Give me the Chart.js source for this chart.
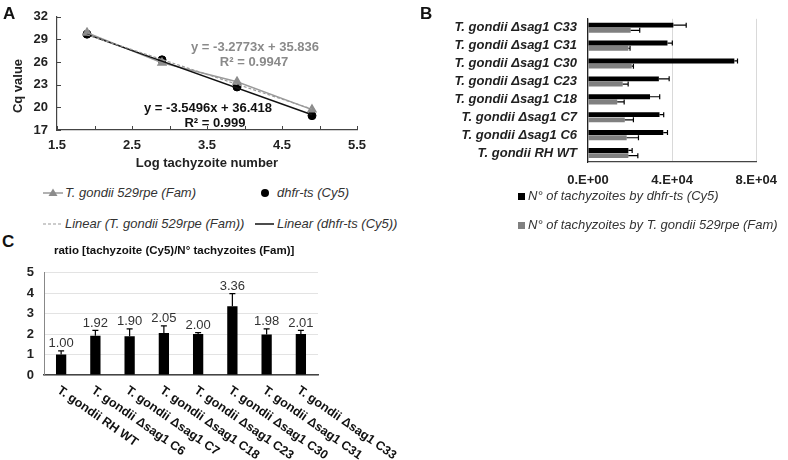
<!DOCTYPE html>
<html><head><meta charset="utf-8">
<script src="https://cdn.jsdelivr.net/npm/chart.js@4.4.1/dist/chart.umd.min.js"></script>
<style>
body{margin:0;background:#fff;width:788px;height:460px;position:relative;overflow:hidden;font-family:"Liberation Sans",Arial,sans-serif;}
.abs{position:absolute;white-space:nowrap;line-height:16px;}
canvas{position:absolute;}
.lg{font-style:italic;font-size:13px;color:#333;}
.letter{font-weight:bold;font-size:17px;color:#111;line-height:20px;}
</style></head><body>
<canvas id="cA" width="380" height="175" style="left:0;top:0;width:380px;height:175px"></canvas>
<canvas id="cB" width="388" height="200" style="left:400px;top:0;width:388px;height:200px"></canvas>
<canvas id="cC" width="400" height="205" style="left:0;top:255px;width:400px;height:205px"></canvas>

<div class="abs letter" style="left:3px;top:4px">A</div>
<div class="abs letter" style="left:420px;top:4px">B</div>
<div class="abs letter" style="left:2px;top:232px">C</div>

<div class="abs" style="left:18px;top:86px;transform:translate(-50%,-50%) rotate(-90deg);font-weight:bold;font-size:13px;color:#222">Cq value</div>

<div class="abs" style="left:255px;top:39px;transform:translateX(-50%);font-weight:bold;font-size:13px;color:#8a8a8a">y = -3.2773x + 35.836</div>
<div class="abs" style="left:254px;top:54px;transform:translateX(-50%);font-weight:bold;font-size:13px;color:#8a8a8a">R² = 0.9947</div>
<div class="abs" style="left:208px;top:100px;transform:translateX(-50%);font-weight:bold;font-size:13px;color:#111">y = -3.5496x + 36.418</div>
<div class="abs" style="left:215px;top:115px;transform:translateX(-50%);font-weight:bold;font-size:13px;color:#111">R² = 0.999</div>

<!-- legend A -->
<svg class="abs" style="left:41px;top:186px" width="24" height="14"><line x1="2" y1="7" x2="22" y2="7" stroke="#999" stroke-width="1.5"/><polygon points="12,2.5 16.5,10 7.5,10" fill="#8c8c8c"/></svg>
<div class="abs lg" style="left:65px;top:185px">T. gondii 529rpe (Fam)</div>
<svg class="abs" style="left:259px;top:187px" width="12" height="12"><circle cx="6" cy="6" r="4" fill="#000"/></svg>
<div class="abs lg" style="left:277px;top:185px">dhfr-ts (Cy5)</div>
<svg class="abs" style="left:41px;top:217px" width="24" height="14"><line x1="2" y1="7" x2="22" y2="7" stroke="#999" stroke-width="1.2" stroke-dasharray="3,2"/></svg>
<div class="abs lg" style="left:65px;top:216px">Linear (T. gondii 529rpe (Fam))</div>
<svg class="abs" style="left:253px;top:217px" width="24" height="14"><line x1="2" y1="7" x2="21" y2="7" stroke="#111" stroke-width="1.5"/></svg>
<div class="abs lg" style="left:277px;top:216px">Linear (dhfr-ts (Cy5))</div>

<!-- legend B -->
<div class="abs" style="left:518px;top:193px;width:7px;height:7px;background:#000"></div>
<div class="abs lg" style="left:528px;top:188px">N° of tachyzoites by dhfr-ts (Cy5)</div>
<div class="abs" style="left:518px;top:222px;width:7px;height:7px;background:#808080"></div>
<div class="abs lg" style="left:528px;top:217px">N° of tachyzoites by T. gondii 529rpe (Fam)</div>

<!-- title C -->
<div class="abs" style="left:54px;top:242px;font-weight:bold;font-size:11.5px;color:#111">ratio [tachyzoite (Cy5)/N° tachyzoites (Fam)]</div>

<script>
// ---------- Panel A data ----------
const logTachyzoites = [1.9, 2.9, 3.9, 4.9];
const cqFam = [29.9, 25.9, 23.4, 19.7];
const cqCy5 = [29.7, 26.3, 22.7, 18.9];
const trendX = [1.9, 4.9];
const trendFam = [29.61, 19.78];
const trendCy5 = [29.67, 19.03];
const xTicksA = ['1.5', '2.5', '3.5', '4.5', '5.5'];

// ---------- Panel B data (top to bottom) ----------
const strainsB = ['T. gondii Δsag1 C33', 'T. gondii Δsag1 C31', 'T. gondii Δsag1 C30', 'T. gondii Δsag1 C23',
                  'T. gondii Δsag1 C18', 'T. gondii Δsag1 C7', 'T. gondii Δsag1 C6', 'T. gondii RH WT'];
const tachyCy5 = [40600, 37800, 69600, 33700, 29500, 34000, 35800, 19200];
const tachyCy5Err = [6100, 2300, 1500, 4900, 4600, 2000, 2000, 1800];
const tachyFam = [20300, 19200, 20800, 16500, 13900, 17500, 18400, 19200];
const tachyFamErr = [4300, 800, 800, 2600, 3300, 4100, 5600, 4500];
const xTicksB = ['0.E+00', '4.E+04', '8.E+04'];

// ---------- Panel C data ----------
const strainsC = ['T. gondii RH WT', 'T. gondii Δsag1 C6', 'T. gondii Δsag1 C7', 'T. gondii Δsag1 C18',
                  'T. gondii Δsag1 C23', 'T. gondii Δsag1 C30', 'T. gondii Δsag1 C31', 'T. gondii Δsag1 C33'];
const ratio = [1.00, 1.92, 1.90, 2.05, 2.00, 3.36, 1.98, 2.01];
const ratioErr = [0.18, 0.26, 0.36, 0.35, 0.07, 0.62, 0.28, 0.17];

Chart.defaults.font.family = "'Liberation Sans', Arial, sans-serif";
Chart.defaults.color = '#222';
Chart.defaults.animation = false;

const pts = (xs, ys) => xs.map((x, i) => ({x: x, y: ys[i]}));

// inward tick marks for panel A
const innerTicks = {
  id: 'innerTicks',
  afterDatasetsDraw(chart) {
    const {ctx, scales: {x, y}, chartArea: a} = chart;
    ctx.save();
    ctx.strokeStyle = '#444'; ctx.lineWidth = 1;
    x.ticks.forEach(t => { const p = Math.round(x.getPixelForValue(t.value)) + 0.5;
      ctx.beginPath(); ctx.moveTo(p, a.bottom); ctx.lineTo(p, a.bottom - 4); ctx.stroke(); });
    y.ticks.forEach(t => { const p = Math.round(y.getPixelForValue(t.value)) + 0.5;
      ctx.beginPath(); ctx.moveTo(a.left, p); ctx.lineTo(a.left + 4, p); ctx.stroke(); });
    ctx.restore();
  }
};

new Chart(document.getElementById('cA'), {
  type: 'scatter',
  data: { datasets: [
    { label: 'Linear (T. gondii 529rpe (Fam))', data: pts(trendX, trendFam), showLine: true,
      borderColor: '#9a9a9a', borderDash: [3, 2], borderWidth: 1.2, pointRadius: 0 },
    { label: 'Linear (dhfr-ts (Cy5))', data: pts(trendX, trendCy5), showLine: true,
      borderColor: '#111', borderWidth: 1.5, pointRadius: 0 },
    { label: 'T. gondii 529rpe (Fam)', data: pts(logTachyzoites, cqFam), showLine: true,
      borderColor: '#9a9a9a', borderWidth: 1.5, backgroundColor: '#8c8c8c', pointBorderColor: '#8c8c8c',
      pointStyle: 'triangle', pointRadius: 4.5 },
    { label: 'dhfr-ts (Cy5)', data: pts(logTachyzoites, cqCy5), showLine: false,
      backgroundColor: '#000', borderColor: '#000', pointStyle: 'circle', pointRadius: 4 }
  ]},
  options: {
    responsive: false,
    layout: { padding: { top: 11, right: 23, left: 0, bottom: 0 } },
    plugins: { legend: { display: false }, tooltip: { enabled: false } },
    scales: {
      x: { type: 'linear', min: 1.5, max: 5.5,
        ticks: { stepSize: 0.5, autoSkip: false, maxRotation: 0, padding: 8,
          font: { size: 13, weight: 'bold' }, color: '#222',
          callback: (v, i) => (i % 2 === 0 ? xTicksA[i / 2] : '') },
        grid: { drawOnChartArea: false, drawTicks: false },
        border: { color: '#444', width: 1.2 },
        title: { display: true, text: 'Log tachyzoite number', font: { size: 13, weight: 'bold' }, color: '#222',
          padding: { top: 0, bottom: 4 } },
        afterFit: s => { s.height = 45; } },
      y: { min: 17, max: 32,
        ticks: { stepSize: 3, padding: 9, font: { size: 13, weight: 'bold' }, color: '#222' },
        grid: { drawOnChartArea: false, drawTicks: false },
        border: { color: '#444', width: 1.2 },
        afterFit: s => { s.width = 57; } }
    }
  },
  plugins: [innerTicks]
});

// horizontal error bars for panel B
const errB = {
  id: 'errB',
  afterDatasetsDraw(chart) {
    const {ctx, scales: {x}} = chart;
    const errs = [tachyCy5Err, tachyFamErr];
    ctx.save(); ctx.strokeStyle = '#000'; ctx.lineWidth = 1.2;
    chart.data.datasets.forEach((ds, d) => {
      chart.getDatasetMeta(d).data.forEach((bar, i) => {
        const x0 = x.getPixelForValue(ds.data[i]);
        const x1 = x.getPixelForValue(ds.data[i] + errs[d][i]);
        ctx.beginPath(); ctx.moveTo(x0, bar.y); ctx.lineTo(x1, bar.y);
        ctx.moveTo(x1, bar.y - 2.5); ctx.lineTo(x1, bar.y + 2.5); ctx.stroke();
      });
    });
    ctx.restore();
  }
};

new Chart(document.getElementById('cB'), {
  type: 'bar',
  data: { labels: strainsB, datasets: [
    { label: 'N° of tachyzoites by dhfr-ts (Cy5)', data: tachyCy5, backgroundColor: '#000',
      categoryPercentage: 0.58, barPercentage: 0.95 },
    { label: 'N° of tachyzoites by T. gondii 529rpe (Fam)', data: tachyFam, backgroundColor: '#808080',
      categoryPercentage: 0.58, barPercentage: 0.95 }
  ]},
  options: {
    indexAxis: 'y', responsive: false,
    layout: { padding: { top: 10, right: 27, left: 0, bottom: 0 } },
    plugins: { legend: { display: false }, tooltip: { enabled: false } },
    scales: {
      x: { min: 0, max: 80000,
        ticks: { stepSize: 40000, padding: 11, font: { size: 13, weight: 'bold' }, color: '#222',
          callback: (v, i) => xTicksB[i] },
        grid: { color: '#d9d9d9', drawTicks: false },
        border: { color: '#444', width: 1.2 },
        afterFit: s => { s.height = 38; } },
      y: { ticks: { autoSkip: false, padding: 11, font: { size: 13, weight: 'bold', style: 'italic' }, color: '#222' },
        grid: { display: false, drawTicks: false },
        border: { color: '#222', width: 1.2 },
        afterFit: s => { s.width = 188; } }
    }
  },
  plugins: [errB]
});

// error bars, value labels and rotated category labels for panel C
const decoC = {
  id: 'decoC',
  afterDatasetsDraw(chart) {
    const {ctx, scales: {x, y}, chartArea: a} = chart;
    const meta = chart.getDatasetMeta(0);
    ctx.save();
    ctx.strokeStyle = '#000'; ctx.lineWidth = 1.2;
    meta.data.forEach((bar, i) => {
      const yTop = y.getPixelForValue(ratio[i] + ratioErr[i]);
      const y0 = y.getPixelForValue(ratio[i]);
      ctx.beginPath(); ctx.moveTo(bar.x, y0); ctx.lineTo(bar.x, yTop);
      ctx.moveTo(bar.x - 3, yTop); ctx.lineTo(bar.x + 3, yTop); ctx.stroke();
      ctx.fillStyle = '#333'; ctx.font = "13px 'Liberation Sans', Arial, sans-serif";
      ctx.textAlign = 'center'; ctx.textBaseline = 'bottom';
      ctx.fillText(ratio[i].toFixed(2), bar.x, yTop - 1);
    });
    ctx.fillStyle = '#111'; ctx.font = "bold 12.5px 'Liberation Sans', Arial, sans-serif";
    ctx.textAlign = 'left'; ctx.textBaseline = 'top';
    strainsC.forEach((lab, i) => {
      const px = x.getPixelForValue(i);
      ctx.save(); ctx.translate(px + 1, a.bottom + 9); ctx.rotate(35 * Math.PI / 180);
      ctx.fillText(lab, 0, 0); ctx.restore();
    });
    ctx.restore();
  }
};

new Chart(document.getElementById('cC'), {
  type: 'bar',
  data: { labels: strainsC, datasets: [
    { label: 'ratio', data: ratio, backgroundColor: '#000', categoryPercentage: 1, barPercentage: 0.3 }
  ]},
  options: {
    responsive: false,
    layout: { padding: { top: 7, right: 82, left: 0, bottom: 0 } },
    plugins: { legend: { display: false }, tooltip: { enabled: false } },
    scales: {
      x: { ticks: { display: false }, grid: { display: false, drawTicks: false },
        border: { color: '#444', width: 1.5 },
        afterFit: s => { s.height = 85; } },
      y: { min: 0, max: 5,
        ticks: { stepSize: 1, padding: 10, font: { size: 13, weight: 'bold' }, color: '#222' },
        grid: { color: '#e3e3e3', drawTicks: false },
        border: { color: '#888', width: 1 },
        afterFit: s => { s.width = 44; } }
    }
  },
  plugins: [decoC]
});
</script>
</body></html>
